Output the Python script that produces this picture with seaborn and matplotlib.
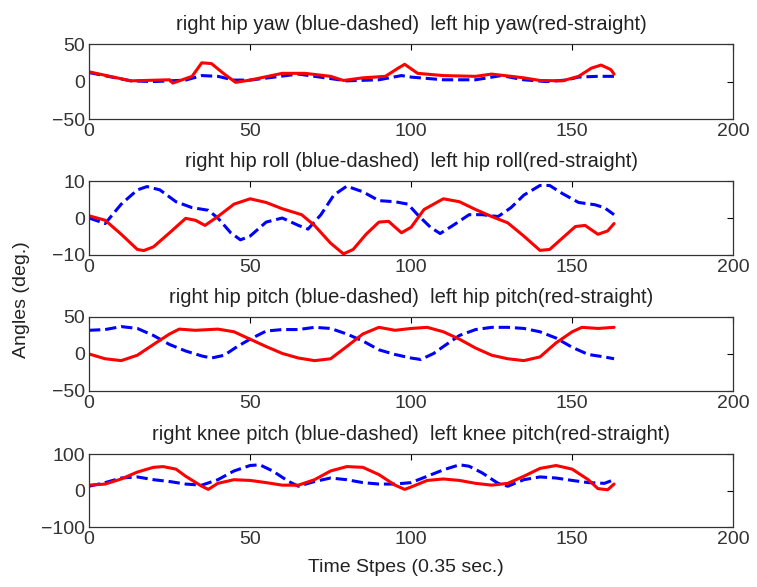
# Recreate the 4-panel hip/knee angle chart
import numpy as np
import matplotlib
matplotlib.use('Agg')
import matplotlib.pyplot as plt
import seaborn as sns

# ---- data ----
# hip yaw
yaw_r_t = [0, 13, 25, 26, 32, 35, 38, 42, 45.5, 50, 60, 67, 75, 79, 85, 92, 96, 98, 102, 110, 120, 125, 135, 140, 147, 152, 156, 159, 162, 163]
yaw_r_v = [13, 1, 2.4, -2, 7, 25, 24, 10, -1, 2, 11, 11, 7, 1.5, 5, 7, 18, 23, 11, 8, 7, 10, 5, 1.5, 1, 7, 18, 22, 16, 10]
yaw_b_t = [0, 13, 20, 30, 35, 40, 45, 50, 65, 70, 80, 90, 97, 100, 110, 120, 128, 135, 142, 148, 152, 158, 163]
yaw_b_v = [12, 1, 0, 2, 8, 7, 2, 2, 10, 7, 1, 2.4, 8, 6, 2.4, 2.4, 8, 2.4, 0, 2, 6, 7, 7]

# hip roll
roll_r_t = [0, 5, 10, 15, 17, 20, 25, 30, 33, 36, 40, 45, 50, 55, 60, 66, 70, 75, 79, 82, 86, 90, 93, 97, 100, 104, 110, 115, 120, 125, 130, 135, 140, 143, 147, 151, 154, 158, 161, 163]
roll_r_v = [0.6, -0.6, -4.4, -8.5, -8.8, -7.8, -4, -0.1, -0.6, -2, 0.4, 3.75, 5.2, 4.2, 2.5, 0.9, -2, -6.8, -9.7, -8.5, -4.4, -1.1, -0.9, -4, -2.5, 2.3, 5.2, 4.4, 2.3, 0.4, -1.3, -4.9, -8.75, -8.5, -5.4, -2.3, -2, -4.4, -3.5, -1.5]
roll_b_t = [0, 5, 10, 15, 18, 22, 27, 32, 37, 40, 44, 47, 50, 55, 60, 65, 68, 72, 76, 80, 85, 90, 95, 99, 102, 106, 109, 113, 118, 122, 127, 131, 135, 140, 143, 147, 152, 157, 160, 163]
roll_b_v = [0, -1.5, 3.75, 7.6, 8.5, 7.6, 4.4, 2.8, 2.1, 0, -4, -5.9, -4.9, -1.1, 0, -2, -3, 0.9, 6.2, 8.6, 7.1, 4.7, 4.4, 3.75, 0.9, -2.5, -4.2, -2, 0.9, 0.9, 0.4, 2.8, 6.2, 8.8, 8.8, 6.6, 4.2, 3.6, 2.8, 0.9]

# hip pitch
pitch_r_t = [0, 5, 10, 15, 20, 25, 28, 33, 40, 45, 50, 55, 60, 65, 70, 75, 80, 85, 90, 95, 100, 105, 110, 115, 120, 125, 130, 135, 140, 145, 150, 153, 158, 163]
pitch_r_v = [0, -6.5, -9, -1.7, 12.8, 27, 33.6, 32, 33.6, 30, 20, 10, 0.7, -5.5, -9, -6.5, 10, 27, 36, 32, 34.5, 36, 30, 20, 8, -1.7, -6.5, -9, -4, 15, 30, 36, 34.5, 36]
pitch_b_t = [0, 5, 10, 15, 20, 25, 30, 35, 38, 42, 46, 50, 55, 60, 65, 70, 75, 80, 85, 90, 95, 100, 103, 107, 110, 115, 120, 125, 130, 135, 140, 145, 150, 155, 160, 163]
pitch_b_v = [32, 33, 37, 34.5, 25, 12.8, 4, -2.7, -5.5, -1.7, 10, 20, 31, 33, 33, 36, 34.5, 27, 17.6, 5.6, -0.7, -5.5, -7.5, 0.7, 10, 25, 33, 36, 36, 34.5, 30, 21.5, 9, -0.7, -4, -6.5]

# knee pitch
knee_r_t = [0, 5, 10, 15, 20, 23, 27, 30, 35, 37, 40, 45, 50, 55, 60, 65, 70, 75, 80, 85, 90, 95, 98, 100, 105, 110, 115, 120, 125, 130, 135, 140, 145, 150, 155, 158, 161, 163]
knee_r_v = [15, 18, 32, 51, 64, 66, 59, 39.5, 12, 3.4, 20, 30, 28, 22, 15, 15, 30, 54, 66, 64, 44, 15, 3.4, 10, 28, 32, 28, 20, 15, 20, 39.5, 61, 69, 59, 30, 5.4, 2.4, 18]
knee_b_t = [0, 5, 10, 15, 20, 25, 30, 35, 40, 45, 50, 53, 57, 62, 65, 70, 75, 80, 85, 90, 95, 100, 105, 110, 115, 118, 122, 127, 130, 135, 140, 145, 150, 155, 160, 163]
knee_b_v = [12, 22, 34.6, 37.6, 30, 25, 18, 15, 30, 54, 69, 71, 54, 25, 12, 25, 34.6, 30, 22, 18, 18, 22, 39.5, 57, 71, 67, 49, 20, 12, 30, 37.6, 34.6, 28, 22, 20, 30]

titles = [
    'right hip yaw (blue-dashed)  left hip yaw(red-straight)',
    'right hip roll (blue-dashed)  left hip roll(red-straight)',
    'right hip pitch (blue-dashed)  left hip pitch(red-straight)',
    'right knee pitch (blue-dashed)  left knee pitch(red-straight)',
]
ylims = [50, 10, 50, 100]
series = [
    (yaw_b_t, yaw_b_v, yaw_r_t, yaw_r_v),
    (roll_b_t, roll_b_v, roll_r_t, roll_r_v),
    (pitch_b_t, pitch_b_v, pitch_r_t, pitch_r_v),
    (knee_b_t, knee_b_v, knee_r_t, knee_r_v),
]

# ---- style ----
sns.set_style('white')
plt.rcParams['font.family'] = ['Liberation Sans', 'DejaVu Sans']
plt.rcParams['xtick.direction'] = 'in'
plt.rcParams['ytick.direction'] = 'in'

fig = plt.figure(figsize=(7.57, 5.87), dpi=100)
# axes boxes in figure fraction (left, bottom, width, height)
boxes = [
    (0.1176, 0.797, 0.851, 0.128),
    (0.1176, 0.5656, 0.851, 0.126),
    (0.1176, 0.334, 0.851, 0.126),
    (0.1176, 0.1022, 0.851, 0.124),
]

for box, title, lim, (bt, bv, rt, rv) in zip(boxes, titles, ylims, series):
    ax = fig.add_axes(box)
    sns.lineplot(x=bt, y=bv, ax=ax, color='blue', linestyle='--', linewidth=2.2,
                 sort=False, estimator=None)
    sns.lineplot(x=rt, y=rv, ax=ax, color='red', linestyle='-', linewidth=2.2,
                 sort=False, estimator=None)
    ax.set_xlim(0, 200)
    ax.set_ylim(-lim, lim)
    ax.set_xticks([0, 50, 100, 150, 200])
    ax.set_yticks([-lim, 0, lim])
    ax.tick_params(labelsize=14, length=4, width=0.8, top=True, right=True, colors='black',
                   labelcolor='#333333', pad=3)
    for s in ax.spines.values():
        s.set_color('#333333')
        s.set_linewidth(0.9)
    ax.set_title(title, fontsize=14.5, color='#222222', pad=10)
    ax.set_xlabel('')
    ax.set_ylabel('')

fig.text(0.028, 0.49, 'Angles (deg.)', rotation=90, ha='center', va='center',
         fontsize=14, color='#222222')
fig.text(0.536, 0.034, 'Time Stpes (0.35 sec.)', ha='center', va='center',
         fontsize=14, color='#222222')

fig.savefig('out.png', dpi=100, facecolor='white')
